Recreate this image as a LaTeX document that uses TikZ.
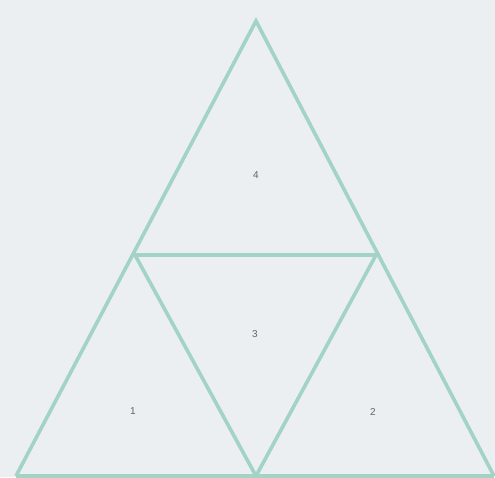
\documentclass[tikz,border=0pt]{standalone}
\usepackage{fontspec}
\setmainfont{Liberation Sans}
\definecolor{bg}{HTML}{EBEFF2}
\definecolor{mint}{HTML}{A2D3C5}
\definecolor{lbl}{HTML}{606468}
\begin{document}
\begin{tikzpicture}[x=1pt,y=-1pt,
  edge/.style={draw=mint,line width=3.6pt,line join=miter},
  lab/.style={text=lbl,font=\fontsize{10}{12}\selectfont,inner sep=0pt}]
\fill[bg] (0,0) rectangle (495,477);
\useasboundingbox (0,0) rectangle (495,477);
\coordinate (A) at (256,21);
\coordinate (L) at (16,476);
\coordinate (R) at (494,476);
\coordinate (ML) at (135,255);
\coordinate (MR) at (376,255);
\coordinate (MB) at (256,476);
\draw[edge] (L) -- (A) -- (R);
\draw[edge] (L) -- (R);
\draw[edge] (ML) -- (MR) -- (MB) -- cycle;
\node[lab] (n4) at (256,175) {4};
\node[lab] (n3) at (255,334) {3};
\node[lab] (n1) at (133,411) {1};
\node[lab] (n2) at (373,412) {2};
\end{tikzpicture}
\end{document}
